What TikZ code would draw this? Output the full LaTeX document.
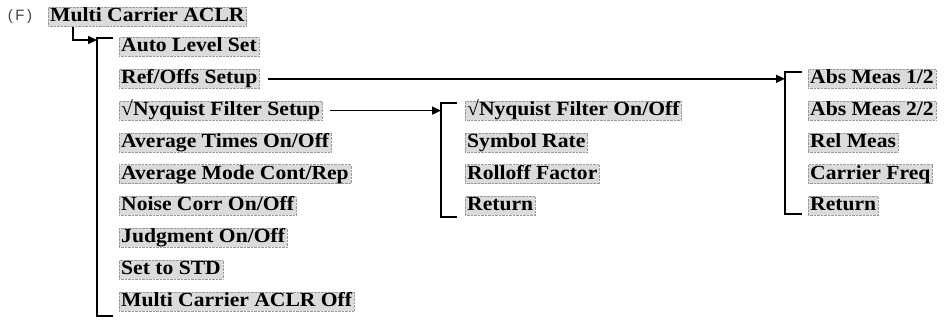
\documentclass[tikz,border=0pt]{standalone}
\usepackage{fontspec}
\setmainfont{Liberation Serif}
\newfontfamily\itemfont[FakeStretch=1.08]{Liberation Serif}
\newfontfamily\labfont{Liberation Sans}
\usetikzlibrary{arrows.meta}
\begin{document}
\begin{tikzpicture}[x=1pt,y=-1pt,
  item/.style={anchor=west, fill=black!14, draw=black!40, densely dotted, line width=0.4pt,
    inner xsep=2pt, inner ysep=0.5pt, text height=14pt, text depth=4pt,
    font=\itemfont\bfseries\fontsize{20}{20}\selectfont},
  conn/.style={line width=1.5pt, -{Triangle[length=9pt,width=8pt]}},
  brk/.style={line width=2pt},
  brkthin/.style={line width=1.1pt},
  lab/.style={font=\labfont\fontsize{15}{15}\selectfont, text=black!75, inner sep=0pt}
]
\useasboundingbox (0,0) rectangle (944,320);

\node[lab] (f) at (20,17) {(\,F\,)};
\node[item] (mca) at (48,17) {Multi Carrier ACLR};

% left column
\node[item] (a1) at (119,47) {Auto Level Set};
\node[item] (a2) at (119,78.8) {Ref/Offs Setup};
\node[item] (a3) at (119,110.6) {√Nyquist Filter Setup};
\node[item] (a4) at (119,142.4) {Average Times On/Off};
\node[item] (a5) at (119,174.2) {Average Mode Cont/Rep};
\node[item] (a6) at (119,206) {Noise Corr On/Off};
\node[item] (a7) at (119,237.8) {Judgment On/Off};
\node[item] (a8) at (119,269.6) {Set to STD};
\node[item] (a9) at (119,301.4) {Multi Carrier ACLR Off};

% middle column
\node[item] (n1) at (465,110.6) {√Nyquist Filter On/Off};
\node[item] (n2) at (465,142.4) {Symbol Rate};
\node[item] (n3) at (465,174.2) {Rolloff Factor};
\node[item] (n4) at (465,206) {Return};

% right column
\node[item] (r1) at (808,79) {Abs Meas 1/2};
\node[item] (r2) at (808,110.6) {Abs Meas 2/2};
\node[item] (r3) at (808,142.4) {Rel Meas};
\node[item] (r4) at (808,174.2) {Carrier Freq};
\node[item] (r5) at (808,206) {Return};

% brackets
\coordinate (b1t) at (113,38);
\coordinate (b1b) at (113,316);
\coordinate (b1in) at (97,40);
\draw[brk] (b1t) -| (97,316) -- (b1b);

\coordinate (b2t) at (457,103);
\coordinate (b2b) at (457,217);
\coordinate (b2in) at (441,110.6);
\draw[brk] (b2t) -| (441,217) -- (b2b);

\coordinate (b3t) at (802,72);
\coordinate (b3b) at (802,214);
\coordinate (b3in) at (785,78.8);
\draw[brkthin] (b3t) -| (785,214) -- (b3b);

% connectors
\draw[conn] ([xshift=25pt]mca.south west) |- (b1in);
\draw[conn] ([xshift=8pt]a2.east) -- (b3in);
\draw[conn] ([xshift=8pt]a3.east) -- (b2in);
\end{tikzpicture}
\end{document}
